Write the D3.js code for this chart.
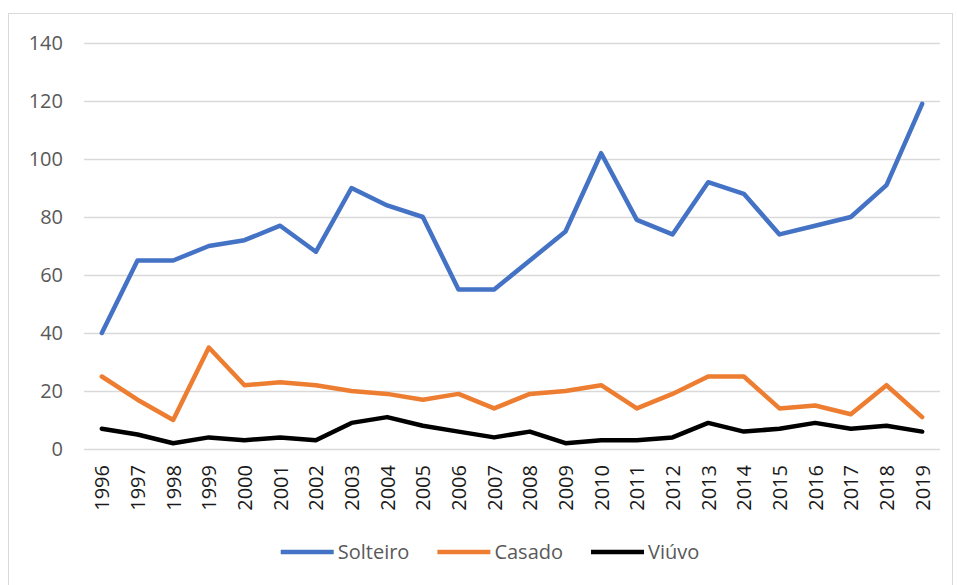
<!DOCTYPE html>
<html>
<head>
<meta charset="utf-8">
<script src="https://cdn.jsdelivr.net/npm/d3@7"></script>
<style>
  body { margin: 0; background: #fff; }
  text { font-family: "Open Sans", sans-serif; }
</style>
</head>
<body>
<svg id="chart" width="957" height="585"></svg>
<script>
// data
var years = ['1996', '1997', '1998', '1999', '2000', '2001', '2002', '2003', '2004', '2005', '2006', '2007',
             '2008', '2009', '2010', '2011', '2012', '2013', '2014', '2015', '2016', '2017', '2018', '2019'];
var solteiro = [40, 65, 65, 70, 72, 77, 68, 90, 84, 80, 55, 55, 65, 75, 102, 79, 74, 92, 88, 74, 77, 80, 91, 119];
var casado = [25, 17, 10, 35, 22, 23, 22, 20, 19, 17, 19, 14, 19, 20, 22, 14, 19, 25, 25, 14, 15, 12, 22, 11];
var viuvo = [7, 5, 2, 4, 3, 4, 3, 9, 11, 8, 6, 4, 6, 2, 3, 3, 4, 9, 6, 7, 9, 7, 8, 6];
var yTicks = [0, 20, 40, 60, 80, 100, 120, 140];

var series = [
    { name: 'Solteiro', values: solteiro, color: '#4472c4' },
    { name: 'Casado', values: casado, color: '#ed7d31' },
    { name: 'Viúvo', values: viuvo, color: '#000000' }
];

var svg = d3.select('#chart');

// outer chart frame
svg.append('rect')
    .attr('x', 8.5).attr('y', 13.5)
    .attr('width', 944).attr('height', 590)
    .attr('fill', '#fff')
    .attr('stroke', '#d9d9d9');

var x = d3.scalePoint().domain(years).range([84, 940]).padding(0.5);
var y = d3.scaleLinear().domain([0, 140]).range([449, 43]);

// gridlines + y labels
var yAxis = svg.append('g')
    .attr('transform', 'translate(84,0)')
    .call(d3.axisLeft(y).tickValues(yTicks).tickSize(-856).tickPadding(21));
yAxis.select('.domain').remove();
yAxis.selectAll('.tick line').attr('stroke', '#d9d9d9').attr('stroke-width', 1.5);
yAxis.selectAll('.tick text')
    .attr('fill', '#595959')
    .style('font-size', '20px');

// x labels
var xAxis = svg.append('g')
    .attr('transform', 'translate(0,449)')
    .call(d3.axisBottom(x).tickSize(0));
xAxis.select('.domain').remove();
xAxis.selectAll('.tick text')
    .attr('fill', '#1a1a1a')
    .style('font-size', '20px')
    .attr('text-anchor', 'end')
    .attr('transform', 'rotate(-90)')
    .attr('x', -16)
    .attr('y', 0)
    .attr('dy', '0.35em');

var line = d3.line()
    .x(function (d, i) { return x(years[i]); })
    .y(function (d) { return y(d); });

svg.selectAll('.series')
    .data(series)
    .enter().append('path')
    .attr('class', 'series')
    .attr('d', function (s) { return line(s.values); })
    .attr('fill', 'none')
    .attr('stroke', function (s) { return s.color; })
    .attr('stroke-width', 4.5)
    .attr('stroke-linejoin', 'round')
    .attr('stroke-linecap', 'round');

// legend, laid out by measuring the text
var legend = svg.append('g');
var cursor = 0;
series.forEach(function (s, i) {
    var g = legend.append('g').attr('transform', 'translate(' + cursor + ',0)');
    g.append('line')
        .attr('x1', 0).attr('x2', 53)
        .attr('y1', 0).attr('y2', 0)
        .attr('stroke', s.color)
        .attr('stroke-width', 4.5);
    var t = g.append('text')
        .attr('x', 57).attr('dy', '0.35em')
        .attr('fill', '#595959')
        .style('font-size', '20px')
        .text(s.name);
    cursor += 57 + t.node().getComputedTextLength() + 28;
});
cursor -= 28;
legend.attr('transform', 'translate(' + (490 - cursor / 2) + ',552)');
</script>
</body>
</html>
